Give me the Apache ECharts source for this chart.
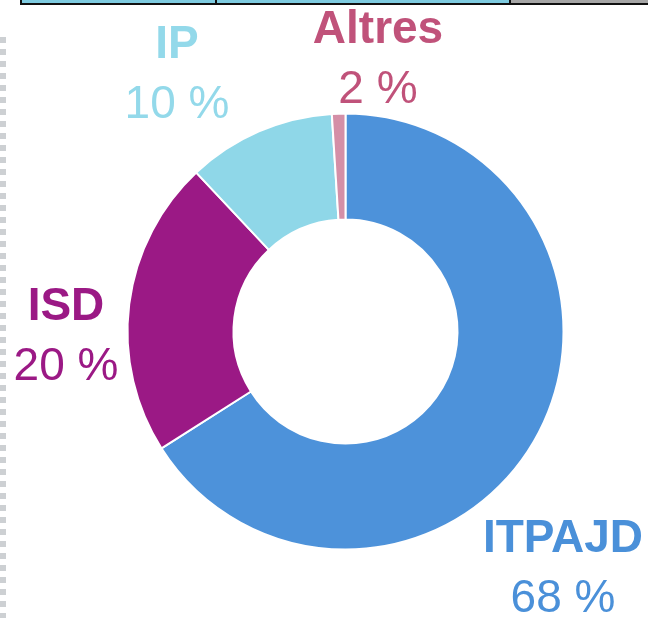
<!DOCTYPE html>
<html lang="ca">

<head>
    <meta charset="UTF-8">
    <title>Repartiment</title>
    <script src="https://cdn.jsdelivr.net/npm/echarts@6/dist/echarts.min.js"></script>
    <style>
        html, body { margin: 0; padding: 0; background: #fff; }
        #main { width: 648px; height: 618px; }
    </style>
</head>

<body>
    <div id="main"></div>
    <script>
        // dades llegides del gràfic
        var categories = ['ITPAJD', 'ISD', 'IP', 'Altres']
        var values = [66, 22, 11, 1]
        var pctLabels = ['68 %', '20 %', '10 %', '2 %']
        var sliceColors = ['#4d92da', '#9b1985', '#8fd7e8', '#d48fa7']
        var labelColors = ['#4a90d9', '#9b1985', '#93d9ea', '#c0527a']

        // posició de cada etiqueta (centre x, part superior y)
        var labelPos = [[563, 509], [66, 277], [177, 15], [378, 0]]

        var mCharts = echarts.init(document.getElementById('main'))

        var pieData = []
        for (var i = 0; i < categories.length; i++) {
            pieData.push({
                name: categories[i],
                value: values[i],
                itemStyle: { color: sliceColors[i] },
                label: {
                    rich: {
                        n: { color: labelColors[i], fontSize: 46, fontWeight: 'bold', lineHeight: 60, fontFamily: 'Liberation Sans' },
                        v: { color: labelColors[i], fontSize: 46, lineHeight: 60, fontFamily: 'Liberation Sans' }
                    }
                }
            })
        }

        var option = {
            animation: false,
            graphic: [
                // resta de la taula de dalt
                { type: 'rect', shape: { x: 21, y: 0, width: 489, height: 4 }, style: { fill: '#7ecbe0' } },
                { type: 'rect', shape: { x: 510, y: 0, width: 138, height: 4 }, style: { fill: '#a6a6a6' } },
                { type: 'rect', shape: { x: 20, y: 3, width: 628, height: 2 }, style: { fill: '#111' } },
                { type: 'rect', shape: { x: 20, y: 0, width: 2, height: 5 }, style: { fill: '#111' } },
                { type: 'rect', shape: { x: 215, y: 0, width: 2, height: 5 }, style: { fill: '#111' } },
                { type: 'rect', shape: { x: 509, y: 0, width: 2, height: 5 }, style: { fill: '#111' } },
                // línia puntejada de l'esquerra
                {
                    type: 'line',
                    shape: { x1: 3, y1: 37, x2: 3, y2: 618 },
                    style: { stroke: '#cdd0d3', lineWidth: 6, lineDash: [6, 6] }
                }
            ],
            series: [{
                type: 'pie',
                center: [345.5, 331.5],
                radius: [112, 218],
                startAngle: 90,
                clockwise: true,
                avoidLabelOverlap: false,
                itemStyle: { borderColor: '#fff', borderWidth: 2 },
                label: {
                    show: true,
                    position: 'outside',
                    formatter: function(arg) {
                        return '{n|' + arg.name + '}\n{v|' + pctLabels[arg.dataIndex] + '}'
                    }
                },
                labelLine: { show: false },
                labelLayout: function(arg) {
                    var p = labelPos[arg.dataIndex]
                    return { x: p[0], y: p[1], align: 'center', verticalAlign: 'top' }
                },
                emphasis: { disabled: true },
                data: pieData
            }]
        }
        mCharts.setOption(option)
    </script>
</body>

</html>
